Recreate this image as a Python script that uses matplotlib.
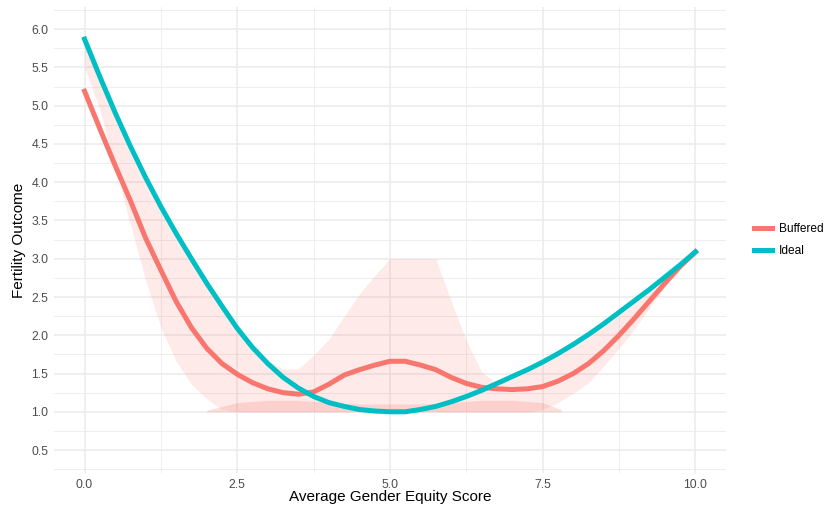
import numpy as np
import matplotlib.pyplot as plt
from matplotlib.lines import Line2D
from matplotlib.ticker import FixedLocator

plt.rcParams['font.family'] = ['Liberation Sans', 'DejaVu Sans']

# average gender equity score grid
x_score = [0.0, 0.25, 0.5, 0.75, 1.0, 1.25, 1.5, 1.75, 2.0, 2.25,
           2.5, 2.75, 3.0, 3.25, 3.5, 3.75, 4.0, 4.25, 4.5, 4.75,
           5.0, 5.25, 5.5, 5.75, 6.0, 6.25, 6.5, 6.75, 7.0, 7.25,
           7.5, 7.75, 8.0, 8.25, 8.5, 8.75, 9.0, 9.25, 9.5, 9.75, 10.0]

buffered = [5.19, 4.70, 4.22, 3.76, 3.27, 2.85, 2.44, 2.10, 1.83, 1.63,
            1.49, 1.38, 1.30, 1.25, 1.23, 1.26, 1.36, 1.48, 1.55, 1.61,
            1.66, 1.66, 1.61, 1.55, 1.45, 1.37, 1.32, 1.30, 1.29, 1.30,
            1.33, 1.40, 1.50, 1.63, 1.80, 2.00, 2.22, 2.45, 2.68, 2.90, 3.09]

ideal = [5.87, 5.38, 4.91, 4.47, 4.06, 3.68, 3.33, 3.00, 2.68, 2.38,
         2.09, 1.84, 1.63, 1.45, 1.31, 1.20, 1.12, 1.07, 1.03, 1.01,
         1.00, 1.00, 1.03, 1.07, 1.13, 1.20, 1.28, 1.37, 1.46, 1.55,
         1.65, 1.76, 1.88, 2.01, 2.15, 2.30, 2.45, 2.60, 2.76, 2.92, 3.09]

# envelope of the simulated individual outcomes (point cloud)
cloud_hi = [5.85, 5.30, 4.82, 4.38, 3.98, 3.60, 3.26, 2.94, 2.63, 2.34,
            2.05, 1.82, 1.66, 1.56, 1.56, 1.74, 1.95, 2.25, 2.54, 2.78,
            3.00, 3.00, 3.00, 3.00, 2.45, 1.93, 1.52, 1.36, 1.43, 1.52,
            1.62, 1.73, 1.85, 1.97, 2.11, 2.26, 2.41, 2.56, 2.72, 2.88, 3.05]

cloud_lo = [5.50, 4.95, 4.20, 3.45, 2.72, 2.10, 1.66, 1.36, 1.17, 1.03,
            1.00, 1.00, 1.00, 1.00, 1.00, 1.00, 1.00, 1.00, 1.00, 1.00,
            1.00, 1.00, 1.00, 1.00, 1.00, 1.00, 1.00, 1.00, 1.00, 1.00,
            1.03, 1.12, 1.24, 1.38, 1.60, 1.83, 2.08, 2.36, 2.64, 2.90, 3.05]

# dense strip of outcomes sitting on the floor of 1.0
band_x = [2.0, 2.5, 3.0, 3.5, 4.0, 4.5, 5.0, 5.5, 6.0, 6.5, 7.0, 7.5, 7.8]
band_hi = [1.02, 1.12, 1.15, 1.15, 1.12, 1.10, 1.10, 1.10, 1.12, 1.15, 1.15, 1.12, 1.03]

x_ticks = [0.0, 2.5, 5.0, 7.5, 10.0]
x_labels = ['0.0', '2.5', '5.0', '7.5', '10.0']
y_ticks = [0.5, 1.0, 1.5, 2.0, 2.5, 3.0, 3.5, 4.0, 4.5, 5.0, 5.5, 6.0]

red = '#F8766D'
teal = '#00BFC4'

fig = plt.figure(figsize=(8.26, 5.11), dpi=100)
ax = fig.add_axes([54 / 826, 38 / 511, 672 / 826, 466 / 511])

ax.fill_between(x_score, cloud_lo, cloud_hi, color=red, alpha=0.15, lw=0)
ax.fill_between(band_x, 1.0, band_hi, color=red, alpha=0.22, lw=0)

ax.plot(x_score, buffered, color=red, lw=3.6, solid_joinstyle='round')
ax.plot(x_score, ideal, color=teal, lw=3.6, solid_joinstyle='round')

ax.set_xlim(-0.5, 10.5)
ax.set_ylim(0.2, 6.29)
ax.xaxis.set_major_locator(FixedLocator(x_ticks))
ax.xaxis.set_minor_locator(FixedLocator([1.25, 3.75, 6.25, 8.75]))
ax.yaxis.set_major_locator(FixedLocator(y_ticks))
ax.yaxis.set_minor_locator(FixedLocator([v + 0.25 for v in [0.0] + y_ticks]))
ax.set_xticklabels(x_labels)
ax.set_yticklabels(['%.1f' % v for v in y_ticks])

ax.grid(which='major', color='#EBEBEB', lw=1.1)
ax.grid(which='minor', color='#EBEBEB', lw=0.6)
ax.set_axisbelow(True)
for s in ax.spines.values():
    s.set_visible(False)
ax.tick_params(which='both', length=0, labelsize=8.8, labelcolor='#4D4D4D', pad=4)

fig.text(390 / 826, 1 - 497 / 511, 'Average Gender Equity Score', ha='center', va='center', fontsize=11)
fig.text(19 / 826, 1 - 240 / 511, 'Fertility Outcome', ha='center', va='center', rotation=90, fontsize=11)

handles = [Line2D([], [], color=red, lw=3.6), Line2D([], [], color=teal, lw=3.6)]
fig.legend(handles, ['Buffered', 'Ideal'], loc='center left', bbox_to_anchor=(754 / 826, 1 - 240 / 511),
           frameon=False, fontsize=8.6, borderpad=0, borderaxespad=0,
           handlelength=1.5, handletextpad=0.6, labelspacing=0.85)

fig.savefig('out.png', dpi=100)
